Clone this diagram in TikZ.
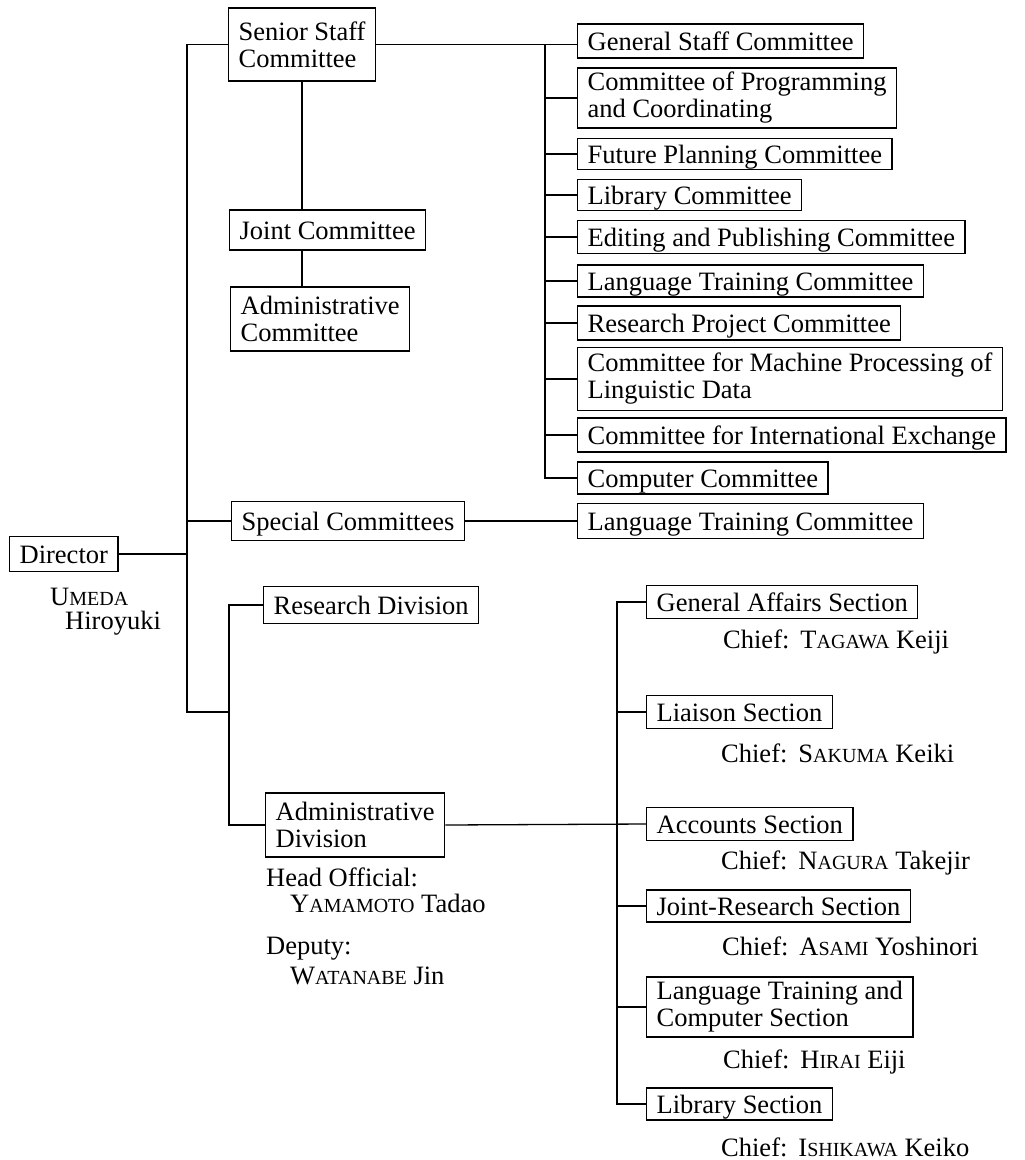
\documentclass[tikz,border=0pt]{standalone}
\usepackage{fontspec}
\setmainfont{Liberation Serif}
\newcommand\smc[2]{#1{\fontsize{20}{20}\selectfont #2}}
\newcommand\chiefgap{\hspace{11pt}}
\begin{document}
\begin{tikzpicture}[x=1pt,y=-1pt,
  ln/.style={line width=1.3pt},
  box/.style={draw, line width=1.3pt, anchor=west, inner xsep=10pt, inner ysep=0pt,
    minimum height=34pt, text height=22pt, text depth=4pt,
    font=\fontsize{26.5}{27}\selectfont},
  boxtwo/.style={draw, line width=1.3pt, anchor=west, inner xsep=10pt, inner ysep=3pt,
    align=left, font=\fontsize{26.5}{27}\selectfont},
  lbl/.style={anchor=west, inner sep=0pt, font=\fontsize{26.5}{27}\selectfont}]
\useasboundingbox[fill=white] (0,0) rectangle (1025,1160);

% left column
\node[boxtwo, minimum height=73pt] (senior) at (228,44.5) {Senior Staff\\Committee};
\node[box, minimum height=40pt] (joint) at (229,230) {Joint Committee};
\node[boxtwo, minimum height=64pt] (admc) at (230,319) {Administrative\\Committee};
\node[box, minimum height=35pt] (dir) at (9,554) {Director};
\node[lbl] (umeda) at (50,597) {\smc{U}{MEDA}};
\node[lbl] (hiro) at (65,623) {Hiroyuki};
\node[box, minimum height=39pt] (spc) at (231,521) {Special Committees};
\node[box, minimum height=37pt] (rdiv) at (263,605) {Research Division};
\node[boxtwo, minimum height=64pt] (adiv) at (265,825) {Administrative\\Division};
\node[lbl] (head) at (266,877) {Head Official:};
\node[lbl] (yama) at (290,903) {\smc{Y}{AMAMOTO} Tadao};
\node[lbl] (dep) at (266,949) {Deputy:};
\node[lbl] (wata) at (290,976) {\smc{W}{ATANABE} Jin};

% committees
\node[box] (gsc) at (577,41) {General Staff Committee};
\node[boxtwo, minimum height=60pt] (cpc) at (577,98) {Committee of Programming\\and Coordinating};
\node[box, minimum height=31pt] (fpc) at (577,154) {Future Planning Committee};
\node[box, minimum height=31pt] (lc) at (577,195) {Library Committee};
\node[box, minimum height=33pt] (epc) at (577,237) {Editing and Publishing Committee};
\node[box, minimum height=32pt] (ltc) at (577,281) {Language Training Committee};
\node[box] (rpc) at (577,323) {Research Project Committee};
\node[boxtwo, minimum height=63pt] (cmp) at (577,379) {Committee for Machine Processing of\\Linguistic Data};
\node[box] (cie) at (577,435) {Committee for International Exchange};
\node[box, minimum height=32pt] (cc) at (577,478) {Computer Committee};
\node[box, minimum height=35pt] (sltc) at (577,521) {Language Training Committee};

% sections
\node[box, minimum height=33pt] (gas) at (646,602) {General Affairs Section};
\node[lbl] (c1) at (723,642) {Chief:\chiefgap\smc{T}{AGAWA} Keiji};
\node[box, minimum height=33pt] (lia) at (646,712) {Liaison Section};
\node[lbl] (c2) at (721,753) {Chief:\chiefgap\smc{S}{AKUMA} Keiki};
\node[box, minimum height=33pt] (acc) at (646,824) {Accounts Section};
\node[lbl] (c3) at (721,863) {Chief:\chiefgap\smc{N}{AGURA} Takejir};
\node[box, minimum height=32pt] (jrs) at (646,906) {Joint-Research Section};
\node[lbl] (c4) at (722,946) {Chief:\chiefgap\smc{A}{SAMI} Yoshinori};
\node[boxtwo, minimum height=60pt] (ltcs) at (646,1007) {Language Training and\\Computer Section};
\node[lbl] (c5) at (723,1062) {Chief:\chiefgap\smc{H}{IRAI} Eiji};
\node[box, minimum height=32pt] (libs) at (646,1104) {Library Section};
\node[lbl] (c6) at (721,1147) {Chief:\chiefgap\smc{I}{SHIKAWA} Keiko};

% bus coordinates
\coordinate (mx) at (187,0);
\coordinate (mb) at (187,712);
\coordinate (rx) at (229,0);
\coordinate (cx) at (545,0);
\coordinate (sx) at (617,0);

% main trunk
\draw[ln] (senior.west) -- (senior.west -| mx) -- (mb) -- (mb -| rx);
\draw[ln] (dir.east) -- (dir.east -| mx);
\draw[ln] (spc.west -| mx) -- (spc.west);
\draw[ln] (spc.east) -- (sltc.west);
\draw[ln] (rdiv.west) -- (rdiv.west -| rx) |- (adiv.west);

% senior staff subtree
\draw[ln] (senior.south) -- (senior.south |- joint.north);
\draw[ln] (senior.south |- joint.south) -- (senior.south |- admc.north);

% committees bus
\draw[ln] (senior.east) -- (senior.east -| gsc.west);
\draw[ln] (senior.east -| cx) |- (cc.west);
\foreach \k in {cpc,fpc,lc,epc,ltc,rpc,cmp,cie}
  \draw[ln] (\k.west -| cx) -- (\k.west);

% sections bus
\draw[ln] (adiv.east) -- (acc.west);
\draw[ln] (gas.west) -- (gas.west -| sx) |- (libs.west);
\foreach \k in {lia,jrs,ltcs}
  \draw[ln] (\k.west -| sx) -- (\k.west);
\end{tikzpicture}
\end{document}
